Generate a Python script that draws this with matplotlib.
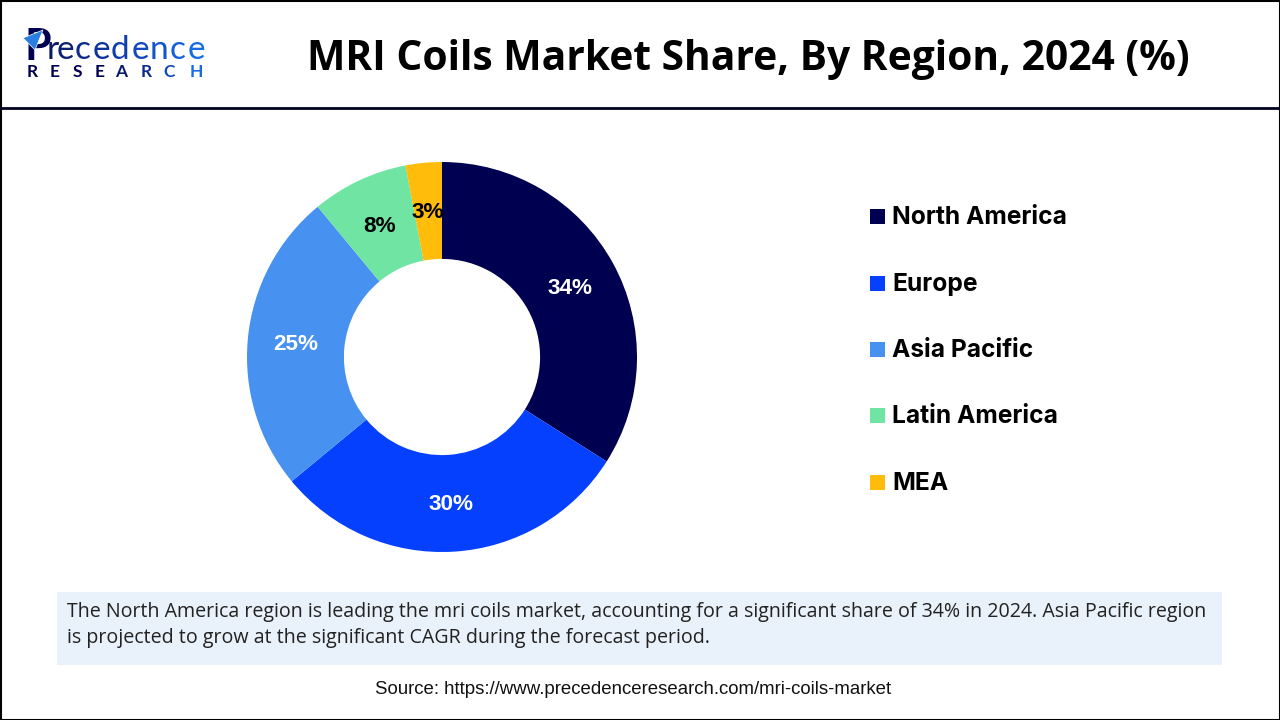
import matplotlib
matplotlib.use('Agg')
import matplotlib.pyplot as plt
from matplotlib.patches import Rectangle, Polygon

regions = ['North America', 'Europe', 'Asia Pacific', 'Latin America', 'MEA']
shares = [34, 30, 25, 8, 3]
colors = ['#000050', '#0540FF', '#4791F0', '#70E4A3', '#FFBC0A']
label_colors = ['white', 'white', 'white', 'black', 'black']

title = 'MRI Coils Market Share, By Region, 2024 (%)'
note = ('The North America region is leading the mri coils market, accounting for a significant share of 34% in 2024. Asia Pacific region\n'
        'is projected to grow at the significant CAGR during the forecast period.')
source = 'Source: https://www.precedenceresearch.com/mri-coils-market'

W, H = 1280, 720
fig = plt.figure(figsize=(12.8, 7.2), dpi=100, facecolor='white')

# full-figure layer in pixel coords
bg = fig.add_axes([0, 0, 1, 1])
bg.set_xlim(0, W); bg.set_ylim(H, 0); bg.axis('off')
bg.add_patch(Rectangle((0.5, 0.5), W - 1, H - 1, fill=False, ec='black', lw=1.5))
bg.plot([0, W], [107.5, 107.5], color='#000020', lw=2)
bg.add_patch(Rectangle((57, 592), 1165, 73, fc='#E9F1FA', ec='none'))

bg.text(748, 59, title, ha='center', va='center', fontsize=29.3, fontweight='bold',
        family='Open Sans', color='black')
bg.text(67, 625, note, ha='left', va='center', fontsize=14.1, family='Open Sans',
        color='#222222', linespacing=1.42)
bg.text(633, 690, source, ha='center', va='center', fontsize=13.4,
        family='Liberation Sans', color='#111111')

# logo
bg.text(25, 60, 'P', fontsize=31, fontweight='bold', family='Lato', color='#000050', ha='left', va='baseline')
logo_colors = ['#0A1A66', '#0B2079', '#0C2A8C', '#0D339C', '#0E3DAE', '#1048BE', '#1254CC', '#1560D8', '#186CE2']
for ch, c, x in zip('recedence', logo_colors, [47, 57, 75, 93, 111, 132, 150, 170, 188]):
    bg.text(x, 59, ch, fontsize=24, family='Lato', color=c, ha='left', va='baseline')
bg.add_patch(Polygon([[23, 38], [43, 30], [35, 50]], fc='#2A7DE1', ec='white', lw=0.5, zorder=4))
for ch, x, c in zip('RESEARCH', [27, 50, 73, 95, 115, 141, 163, 190],
                    ['#000050', '#000050', '#000050', '#000050', '#0A1A66', '#0C2A8C', '#1048BE', '#186CE2']):
    bg.text(x, 77, ch, fontsize=12.5, fontweight='bold', family='Lato', color=c, ha='left', va='baseline')

# donut
cx, cy, r = 442, 357, 195
ax = fig.add_axes([(cx - r) / W, 1 - (cy + r) / H, 2 * r / W, 2 * r / H])
wedges, _ = ax.pie(shares, colors=colors, startangle=90, counterclock=False, radius=1,
                   wedgeprops=dict(width=0.497, edgecolor='none'))
ax.set_xlim(-1, 1); ax.set_ylim(-1, 1)

label_pos = [(570, 288), (451, 504), (296, 344), (380, 226), (428, 212)]
for s, c, (x, y) in zip(shares, label_colors, label_pos):
    bg.text(x, y, f'{s}%', ha='center', va='center', fontsize=16.2, fontweight='bold',
            family='Liberation Sans', color=c, zorder=5)
bg.set_zorder(ax.get_zorder() + 1)
bg.patch.set_alpha(0)

# legend
legend_y = [216, 283, 349, 415, 482]
for name, c, y in zip(regions, colors, legend_y):
    bg.add_patch(Rectangle((870, y - 7.5), 15, 15, fc=c, ec='none'))
    bg.text(892, y + 1.5, name, ha='left', va='center', fontsize=17.7, fontweight='bold',
            family='Inter', color='black')

fig.savefig('out.png', dpi=100)
